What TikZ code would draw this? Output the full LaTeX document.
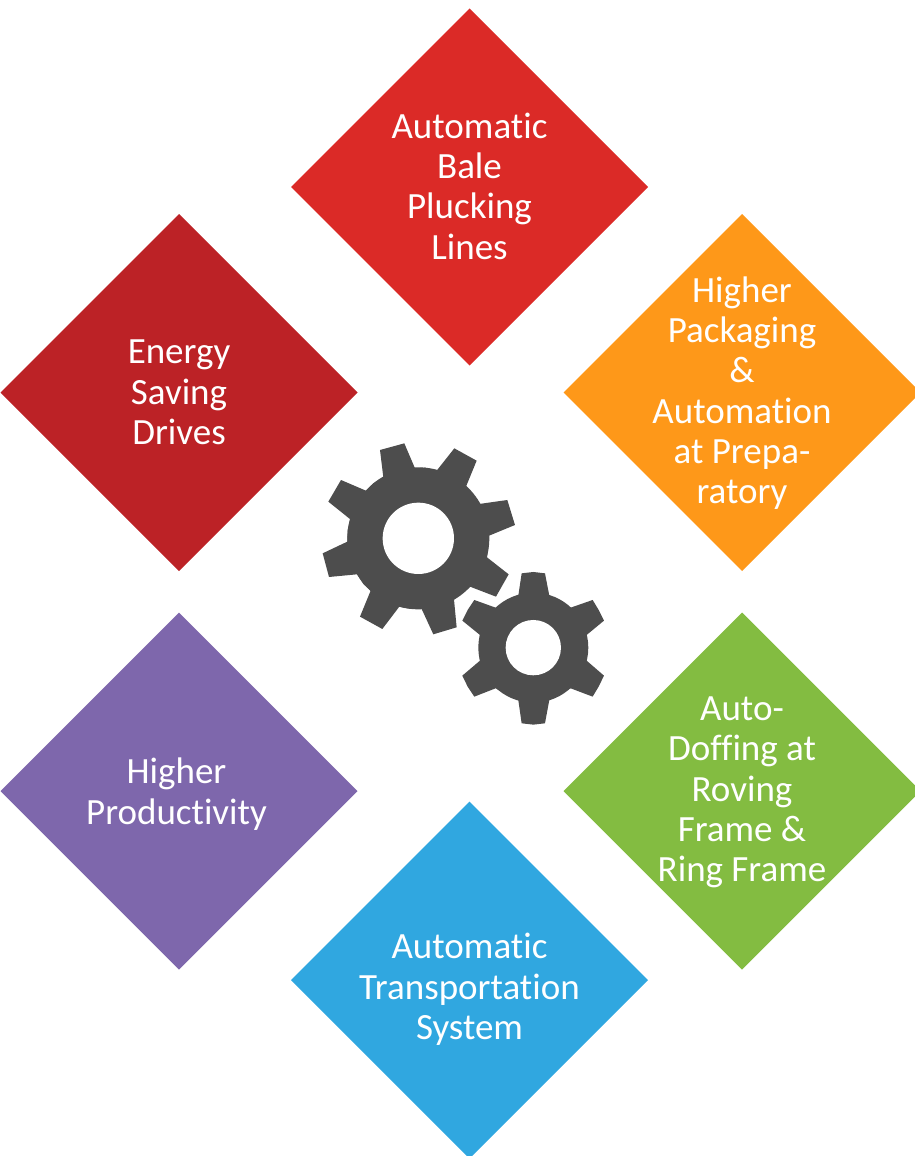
\documentclass[tikz,border=0pt]{standalone}
\usepackage{fontspec}
\setmainfont{Carlito}[RawFeature={-liga;-clig}]
\usetikzlibrary{shapes.geometric}
\definecolor{cred}{HTML}{DB2A27}
\definecolor{cdark}{HTML}{BC2226}
\definecolor{corange}{HTML}{FE9819}
\definecolor{cgreen}{HTML}{83BC41}
\definecolor{cpurple}{HTML}{7E67AC}
\definecolor{cblue}{HTML}{30A7E0}
\definecolor{cgear}{HTML}{4D4D4D}
\tikzset{
  tile/.style={diamond,aspect=1,minimum width=357pt,minimum height=357pt,inner sep=0pt,outer sep=0pt,draw=none},
  tiletext/.style={text=white,align=center,inner sep=0pt,font=\fontsize{37}{40.3}\selectfont},
  gearfill/.style={fill=cgear,draw=none},
  gearhole/.style={fill=white,draw=none}
}
\begin{document}
\begin{tikzpicture}[x=1pt,y=-1pt]
\useasboundingbox (0,0) rectangle (915,1156);
\clip (0,0) rectangle (915,1156);
\node[tile,fill=cred]    (bale)   at (469.5,187) {};
\node[tile,fill=corange] (pack)   at (742,392.5) {};
\node[tile,fill=cdark]   (energy) at (179,392.5) {};
\node[tile,fill=cpurple] (prod)   at (179,791) {};
\node[tile,fill=cgreen]  (doff)   at (742,791) {};
\node[tile,fill=cblue]   (trans)  at (469.5,980) {};
\node[tiletext,yshift=1pt] (baleT)   at (bale)   {Automatic\\Bale\\Plucking\\Lines};
\node[tiletext,yshift=-0.5pt] (packT)   at (pack)   {Higher\\Packaging\\\&\\Automation\\at Prepa-\\ratory};
\node[tiletext] (energyT) at (energy) {Energy\\Saving\\Drives};
\node[tiletext,xshift=-2.5pt,yshift=-3pt] (prodT)   at (prod)   {Higher\\Productivity};
\node[tiletext,yshift=-1.5pt] (doffT)   at (doff)   {Auto-\\Doffing at\\Roving\\Frame \&\\Ring Frame};
\node[tiletext,yshift=-9.5pt] (transT)  at (trans)  {Automatic\\Transportation\\System};
\begin{scope}[shift={(310,430)},x=0.3333pt,y=-0.3333pt]
  \fill[gearfill] (325,325) circle[radius=213];
  \fill[gearfill] (210,60)--(283,40)--(315,115)--(345,113)--(380,122)--(433,55)--(500,92)--(468,170)--(490,195)--(507,222)--(592,210)--(615,285)--(535,318)--(535,350)--(531,382)--(596,433)--(558,500)--(480,470)--(455,490)--(432,508)--(440,592)--(370,613)--(335,537)--(305,537)--(268,530)--(217,597)--(150,560)--(182,482)--(160,462)--(141,433)--(57,441)--(38,370)--(112,335)--(113,300)--(121,268)--(55,215)--(93,150)--(170,183)--(190,160)--(220,142)--cycle;
  \fill[gearhole] (325,325) circle[radius=107];
  \fill[gearfill] (670,653) circle[radius=165];
  \fill[gearfill] (625,497)--(635,430)--(670,426)--(705,430)--(718,497)--(782,533)--(848,510)--(866,540)--(882,572)--(830,615)--(830,692)--(882,737)--(866,770)--(848,800)--(782,775)--(718,810)--(705,880)--(670,884)--(635,880)--(625,810)--(557,775)--(493,800)--(473,770)--(457,737)--(510,692)--(510,615)--(457,572)--(473,540)--(493,510)--(557,533)--cycle;
  \fill[gearhole] (670,653) circle[radius=83];
\end{scope}
\end{tikzpicture}
\end{document}
